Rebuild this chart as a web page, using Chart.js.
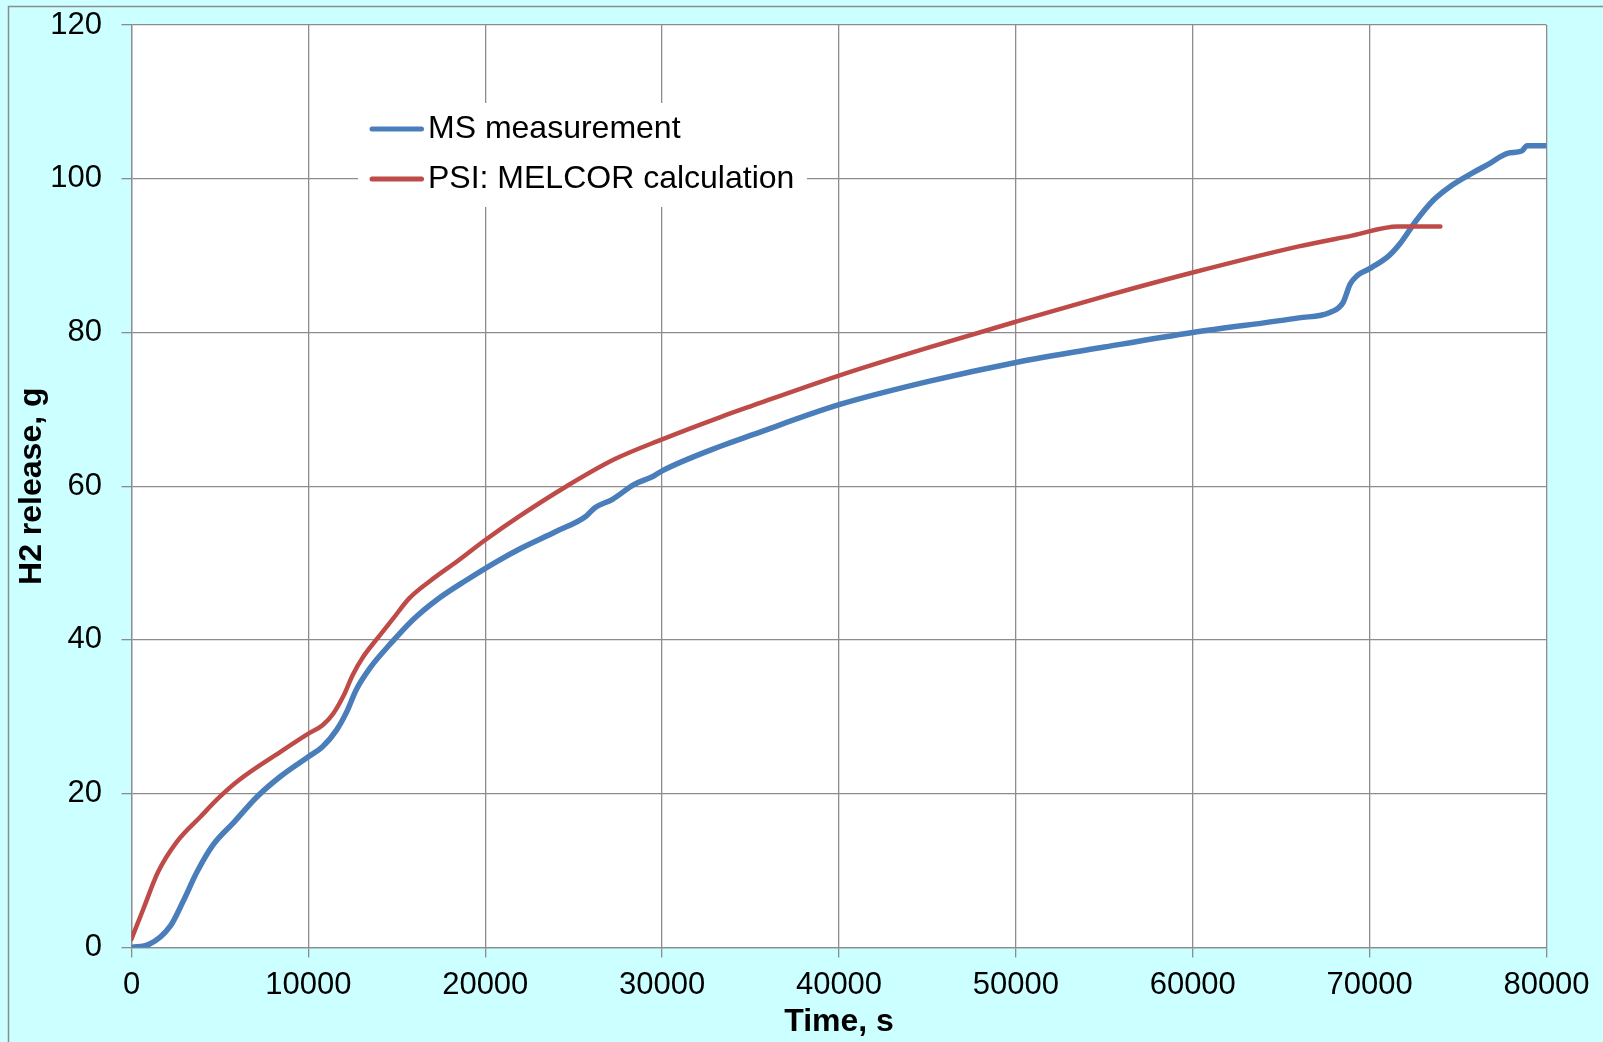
<!DOCTYPE html>
<html>
<head>
<meta charset="utf-8">
<title>H2 release</title>
<script src="https://cdn.jsdelivr.net/npm/chart.js@4/dist/chart.umd.min.js"></script>
<style>
  html, body { margin: 0; padding: 0; background: #CCFFFF; }
  #wrap { position: relative; width: 1603px; height: 1042px; }
</style>
</head>
<body>
<div id="wrap"><canvas id="chart"></canvas></div>
<script>
// MS measurement: time [s] and cumulative hydrogen release [g]
const msTime = [0, 1000, 2200, 2900, 3700, 4600, 5800, 7100, 8400, 10000, 10800, 11600, 12200, 12700,
  13500, 14600, 15900, 17250, 18950, 20650, 22000, 24000, 25700, 26200, 27200, 28400, 29500, 30000,
  33300, 35000, 40000, 45000, 50000, 55000, 60000, 66000, 67750, 68500, 68900, 69300, 70000, 71100,
  71700, 72650, 73600, 74500, 75700, 76800, 77800, 78600, 78900, 80000];
const msH2 = [0, 0.4, 2.8, 5.9, 9.8, 13.3, 16.3, 19.6, 22.2, 24.8, 26.1, 28.3, 30.8, 33.5,
  36.4, 39.4, 42.6, 45.2, 47.8, 50.2, 51.9, 54.1, 56.1, 57.2, 58.3, 60.2, 61.3, 62.0,
  65.2, 66.6, 70.6, 73.6, 76.1, 78.1, 80.0, 81.9, 82.6, 83.9, 86.3, 87.4, 88.3, 90.0,
  91.5, 94.6, 97.2, 98.9, 100.6, 102.0, 103.3, 103.6, 104.3, 104.3];

// PSI: MELCOR calculation
const calcTime = [0, 670, 1500, 2550, 3900, 5000, 6100, 8400, 10000, 10800, 11400, 12000, 12500,
  13100, 13900, 14800, 15700, 16900, 18400, 20000, 22000, 24600, 27300, 30000, 33300, 35000,
  40000, 45000, 50000, 55000, 60000, 66000, 69000, 71600, 74000];
const calcH2 = [1.1, 5.0, 9.8, 13.7, 17.0, 19.6, 21.8, 25.4, 27.8, 28.9, 30.4, 32.8, 35.4,
  37.8, 40.2, 42.8, 45.4, 47.7, 50.2, 53.0, 56.2, 60.0, 63.5, 66.1, 69.0, 70.4,
  74.4, 78.0, 81.4, 84.7, 87.8, 91.2, 92.6, 93.8, 93.8];

const seriesLabels = ['MS measurement', 'PSI: MELCOR calculation'];
const seriesColors = ['#4A7EBB', '#BE4B48'];

// Axis tick values
const xTicks = [0, 10000, 20000, 30000, 40000, 50000, 60000, 70000, 80000];
const yTicks = [0, 20, 40, 60, 80, 100, 120];

const FONT = '"Liberation Sans", Arial, sans-serif';
const GRID = '#8C8C8C';

const toPoints = (xs, ys) => xs.map((x, i) => ({ x: x, y: ys[i] }));

// Cyan page background, outer frame and white plot area
const backdrop = {
  id: 'backdrop',
  beforeDraw(chart) {
    const { ctx, chartArea: a } = chart;
    ctx.save();
    ctx.fillStyle = '#CCFFFF';
    ctx.fillRect(0, 0, chart.width, chart.height);
    ctx.strokeStyle = GRID;
    ctx.lineWidth = 1.5;
    ctx.strokeRect(8.5, 6.5, chart.width + 20, chart.height + 20);
    ctx.fillStyle = '#FFFFFF';
    ctx.fillRect(a.left, a.top, a.right - a.left, a.bottom - a.top);
    ctx.restore();
  }
};

// Legend box inside the plot area
const innerLegend = {
  id: 'innerLegend',
  beforeDatasetsDraw(chart) {
    const { ctx } = chart;
    ctx.save();
    ctx.fillStyle = '#FFFFFF';
    ctx.fillRect(358, 103, 449, 104);
    ctx.font = '32px ' + FONT;
    ctx.textBaseline = 'middle';
    ctx.textAlign = 'left';
    chart.data.datasets.forEach((ds, i) => {
      const y = 129 + i * 50;
      ctx.strokeStyle = ds.borderColor;
      ctx.lineWidth = 5;
      ctx.lineCap = 'round';
      ctx.beginPath();
      ctx.moveTo(372, y);
      ctx.lineTo(421.5, y);
      ctx.stroke();
      ctx.fillStyle = '#000000';
      ctx.fillText(ds.label, 428, y);
    });
    ctx.restore();
  }
};

new Chart(document.getElementById('chart'), {
  type: 'line',
  data: {
    datasets: [
      {
        label: seriesLabels[0],
        data: toPoints(msTime, msH2),
        borderColor: seriesColors[0],
        borderWidth: 5.5,
        pointRadius: 0,
        cubicInterpolationMode: 'monotone',
        borderCapStyle: 'round',
        borderJoinStyle: 'round',
        fill: false,
        order: 1
      },
      {
        label: seriesLabels[1],
        data: toPoints(calcTime, calcH2),
        borderColor: seriesColors[1],
        borderWidth: 4.5,
        pointRadius: 0,
        cubicInterpolationMode: 'monotone',
        borderCapStyle: 'round',
        borderJoinStyle: 'round',
        fill: false,
        order: 0
      }
    ]
  },
  options: {
    responsive: true,
    maintainAspectRatio: false,
    animation: false,
    devicePixelRatio: 1,
    layout: { padding: { top: 25, right: 56.5, left: 0, bottom: 0 } },
    plugins: {
      legend: { display: false },
      tooltip: { enabled: false }
    },
    scales: {
      x: {
        type: 'linear',
        min: 0,
        max: 80000,
        afterBuildTicks: (s) => { s.ticks = xTicks.map(v => ({ value: v })); },
        afterFit: (s) => { s.height = 94.6; s.paddingLeft = 0; s.paddingRight = 0; },
        ticks: {
          callback: (v) => String(v),
          font: { family: FONT, size: 31 },
          color: '#000000',
          padding: 9,
          maxRotation: 0,
          autoSkip: false
        },
        grid: { color: GRID, lineWidth: 1.3, tickLength: 10, tickColor: GRID },
        border: { color: GRID, width: 1.3 },
        title: {
          display: true,
          text: 'Time, s',
          font: { family: FONT, size: 32, weight: 'bold' },
          color: '#000000',
          padding: { top: 0, bottom: 1 }
        }
      },
      y: {
        type: 'linear',
        min: 0,
        max: 120,
        afterBuildTicks: (s) => { s.ticks = yTicks.map(v => ({ value: v })); },
        afterFit: (s) => { s.width = 131.5; s.paddingTop = 0; s.paddingBottom = 0; },
        ticks: {
          callback: (v) => String(v),
          font: { family: FONT, size: 31 },
          color: '#000000',
          padding: 19.5,
          autoSkip: false
        },
        grid: { color: GRID, lineWidth: 1.3, tickLength: 10, tickColor: GRID },
        border: { color: GRID, width: 1.3 },
        title: {
          display: true,
          text: 'H2 release, g',
          font: { family: FONT, size: 32, weight: 'bold' },
          color: '#000000',
          padding: { top: 13, bottom: 0 }
        }
      }
    }
  },
  plugins: [backdrop, innerLegend]
});
</script>
</body>
</html>
